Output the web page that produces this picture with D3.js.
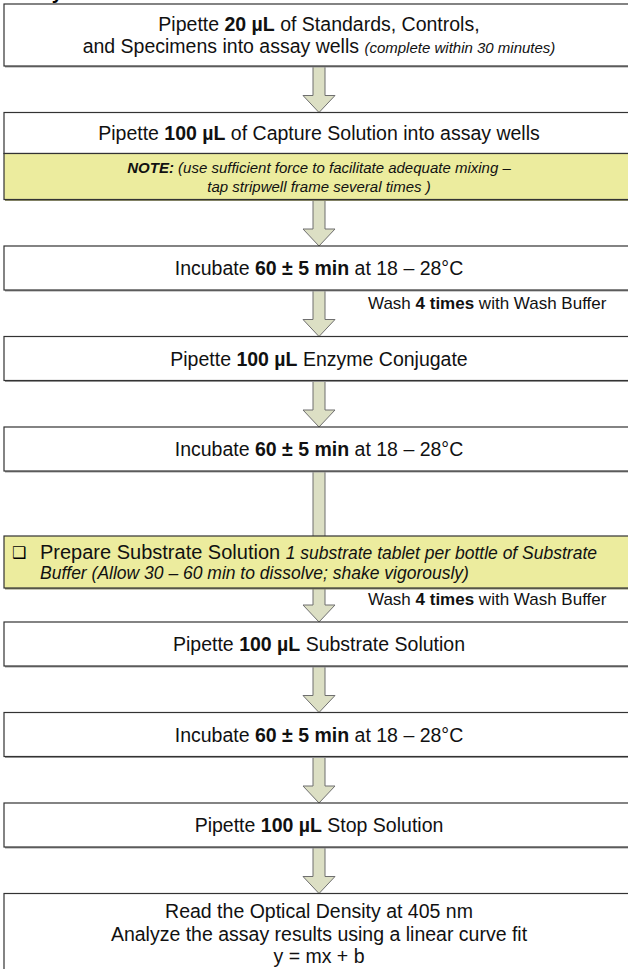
<!DOCTYPE html>
<html>
<head>
<meta charset="utf-8">
<script src="https://cdn.jsdelivr.net/npm/d3@7"></script>
<style>
  html, body { margin: 0; padding: 0; background: #fff; overflow: hidden; }
  svg { display: block; font-family: "Liberation Sans", Arial, sans-serif; }
</style>
</head>
<body>
<div class="flow-container"></div>
<script>
"use strict";

// Markup: **bold**, _italic_, __bold italic__, {_small italic_}
const heading = "Assay Procedure";

const stepLines = [
    ["Pipette **20 µL** of Standards, Controls,", "and Specimens into assay wells {_(complete within 30 minutes)_}"],
    ["Pipette **100 µL** of Capture Solution into assay wells"],
    ["Incubate **60 ± 5 min** at 18 – 28°C"],
    ["Pipette **100 µL** Enzyme Conjugate"],
    ["Incubate **60 ± 5 min** at 18 – 28°C"],
    ["Pipette **100 µL** Substrate Solution"],
    ["Incubate **60 ± 5 min** at 18 – 28°C"],
    ["Pipette **100 µL** Stop Solution"],
    ["Read the Optical Density at 405 nm", "Analyze the assay results using a linear curve fit", "y = mx + b"]
];

// note box attached under step 1 (index)
const noteStep = 1;
const noteLines = [
    "__NOTE:__ _(use sufficient force to facilitate adequate mixing –_",
    "_tap stripwell frame several times )_"
];

// side preparation box sits on the arrow after step 4
const prepAfter = 4;
const prepLines = [
    "Prepare Substrate Solution   {_1 substrate tablet per bottle of Substrate_}",
    "{_Buffer  (Allow 30 – 60 min to dissolve; shake vigorously)_}"
];

// wash labels on arrows after these steps
const washAfter = [2, 4];
const washText = "Wash **4 times** with Wash Buffer";

const W = 628, H = 969;
const boxLeft = 4, boxRight = 633, cx = 319;
const gap = 46.5, longGap = 151;
const lineH = 22.5;
const mainSize = 19.5;
const yellow = "#ecec9e", arrowFill = "#dcdfc4";

function boxHeight(n) { return n === 1 ? 44 : 26 + n * 18; }

// layout
let y = 4;
const boxes = [];
const arrows = [];
stepLines.forEach((lines, i) => {
    const h = (i === noteStep) ? 41 : boxHeight(lines.length);
    const b = {i, lines, y0: y, y1: y + h};
    boxes.push(b);
    y += h;
    if (i === noteStep) {
        b.note = {y0: y, y1: y + 46};
        y += 46;
    }
    if (i < stepLines.length - 1) {
        const g = (i === prepAfter) ? longGap : gap;
        arrows.push({from: i, y0: y, y1: y + g});
        y += g;
    }
});

const svg = d3.select('.flow-container')
    .append('svg')
    .attr('width', W)
    .attr('height', H);

// rich text helper
function richLine(sel, str, italicSize) {
    const parts = str.split(/(\{_[^}]+_\}|__[^_]+__|\*\*[^*]+\*\*|_[^_]+_)/).filter(s => s.length);
    parts.forEach(p => {
        const t = sel.append('tspan');
        if (p.startsWith('{_')) {
            t.text(p.slice(2, -2)).attr('font-style', 'italic').attr('font-size', italicSize);
        } else if (p.startsWith('__')) {
            t.text(p.slice(2, -2)).attr('font-style', 'italic').attr('font-weight', 'bold');
        } else if (p.startsWith('**')) {
            t.text(p.slice(2, -2)).attr('font-weight', 'bold');
        } else if (p.startsWith('_')) {
            t.text(p.slice(1, -1)).attr('font-style', 'italic');
        } else {
            t.text(p);
        }
    });
}

// heading (cut off at top)
svg.append('text')
    .attr('x', 4).attr('y', -1)
    .attr('font-size', 20).attr('font-weight', 'bold')
    .text(heading);

// arrows
const shaftW = 12, headW = 32, headH = 17;
function arrowPath(a) {
    const p = d3.path();
    p.moveTo(cx - shaftW / 2, a.y0);
    p.lineTo(cx + shaftW / 2, a.y0);
    p.lineTo(cx + shaftW / 2, a.y1 - headH);
    p.lineTo(cx + headW / 2, a.y1 - headH);
    p.lineTo(cx, a.y1);
    p.lineTo(cx - headW / 2, a.y1 - headH);
    p.lineTo(cx - shaftW / 2, a.y1 - headH);
    p.closePath();
    return p.toString();
}
svg.selectAll('.arrow')
    .data(arrows)
    .enter()
    .append('path')
    .attr('class', 'arrow')
    .attr('d', arrowPath)
    .attr('fill', arrowFill)
    .attr('stroke', '#6f6f6f')
    .attr('stroke-width', 1);

// boxes
function drawBox(sel, y0, y1, fill, shadow) {
    sel.append('rect')
        .attr('x', boxLeft + 1).attr('y', y0 + 1.5)
        .attr('width', boxRight - boxLeft).attr('height', y1 - y0)
        .attr('fill', shadow);
    sel.append('rect')
        .attr('x', boxLeft).attr('y', y0)
        .attr('width', boxRight - boxLeft).attr('height', y1 - y0)
        .attr('fill', fill)
        .attr('stroke', '#333')
        .attr('stroke-width', 1.2);
}

const g = svg.selectAll('.step')
    .data(boxes)
    .enter()
    .append('g')
    .attr('class', 'step');

g.each(function(d) {
    const sel = d3.select(this);
    drawBox(sel, d.y0, d.y1, '#fff', '#9a9a9a');
    const n = d.lines.length;
    const mid = (d.y0 + d.y1) / 2;
    d.lines.forEach((ln, k) => {
        const t = sel.append('text')
            .attr('x', cx)
            .attr('y', mid + (k - (n - 1) / 2) * lineH + 7)
            .attr('text-anchor', 'middle')
            .attr('font-size', mainSize)
            .attr('fill', '#111');
        richLine(t, ln, 15);
    });
});

// attached note
const noteBox = boxes[noteStep];
const ng = svg.append('g');
drawBox(ng, noteBox.note.y0, noteBox.note.y1, yellow, '#8a8a6a');
noteLines.forEach((ln, k) => {
    const t = ng.append('text')
        .attr('x', cx)
        .attr('y', (noteBox.note.y0 + noteBox.note.y1) / 2 + (k - 0.5) * 19 + 5.5)
        .attr('text-anchor', 'middle')
        .attr('font-size', 15)
        .attr('fill', '#111');
    richLine(t, ln, 15);
});

// prep box over the long arrow
const longArrow = arrows[prepAfter];
const prep = {y0: longArrow.y0 + 65, y1: longArrow.y0 + 117};
const pg = svg.append('g');
drawBox(pg, prep.y0, prep.y1, yellow, '#8a8a6a');
pg.append('text')
    .attr('x', 12).attr('y', (prep.y0 + prep.y1) / 2 - 4)
    .attr('font-family', 'DejaVu Sans')
    .attr('font-size', 16)
    .text('❑');
prepLines.forEach((ln, k) => {
    const t = pg.append('text')
        .attr('x', 40)
        .attr('y', (prep.y0 + prep.y1) / 2 + (k - 0.5) * 20 + 6.5)
        .attr('font-size', 20)
        .attr('fill', '#111');
    richLine(t, ln, 17.5);
});

// wash labels
washAfter.forEach(i => {
    const a = arrows[i];
    const top = (i === prepAfter) ? prep.y1 : a.y0;
    const t = svg.append('text')
        .attr('x', 368)
        .attr('y', top + ((i === prepAfter) ? 17 : 19))
        .attr('font-size', 17)
        .attr('fill', '#111');
    richLine(t, washText, 17);
});
</script>
</body>
</html>
